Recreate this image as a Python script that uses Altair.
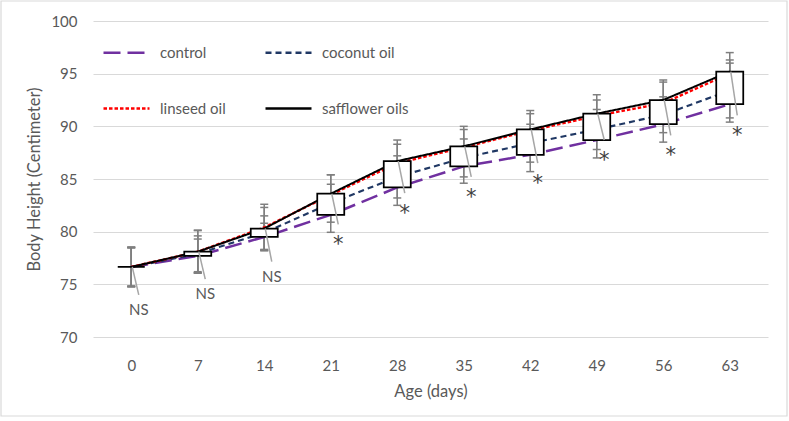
import altair as alt
import pandas as pd

# Age of the animals (days) and mean body height (cm) per diet group
days = [0, 7, 14, 21, 28, 35, 42, 49, 56, 63]
series = ["control", "coconut oil", "linseed oil", "safflower oils"]
# legend entries are laid out column by column
legend_order = ["control", "linseed oil", "coconut oil", "safflower oils"]

control = [76.65, 77.7, 79.5, 81.6, 84.2, 86.2, 87.3, 88.7, 90.2, 92.1]
coconut_oil = [76.65, 77.9, 79.9, 82.7, 85.2, 87.0, 88.4, 89.7, 91.1, 93.4]
linseed_oil = [76.65, 78.1, 80.4, 83.5, 86.5, 88.0, 89.6, 91.0, 92.2, 95.0]
safflower_oils = [76.65, 78.1, 80.3, 83.6, 86.7, 88.1, 89.7, 91.2, 92.5, 95.2]

# Standard deviations (error bars)
sd_control = [1.85, 1.6, 1.3, 1.66, 1.7, 1.6, 1.6, 1.7, 1.7, 1.7]
sd_coconut_oil = [1.8, 1.7, 1.6, 1.8, 2.0, 1.8, 1.8, 1.9, 1.7, 2.6]
sd_linseed_oil = [1.9, 2.05, 2.2, 1.9, 1.8, 1.7, 1.6, 1.5, 2.0, 1.3]
sd_safflower_oils = [1.85, 2.0, 2.0, 1.8, 2.0, 1.9, 1.8, 1.8, 1.9, 1.8]

# Significance callouts and the height where each callout sits
significance = ["NS", "NS", "NS", "*", "*", "*", "*", "*", "*", "*"]
callout_y = [74.0, 75.5, 77.15, 80.7, 83.65, 85.2, 86.5, 88.7, 89.15, 91.05]

y_ticks = [70, 75, 80, 85, 90, 95, 100]

color_map = {"control": "#7030A0", "coconut oil": "#203864",
             "linseed oil": "#FF0000", "safflower oils": "#000000"}
dash_map = {"control": [17, 7], "coconut oil": [6, 4],
            "linseed oil": [3.5, 2], "safflower oils": [1, 0]}
width_map = {"control": 2.5, "coconut oil": 2, "linseed oil": 2,
             "safflower oils": 2.25}

FONT = "Lato"
TEXT = "#595959"
GRID = "#d9d9d9"

means = [control, coconut_oil, linseed_oil, safflower_oils]
sds = [sd_control, sd_coconut_oil, sd_linseed_oil, sd_safflower_oils]

rows = []
for name, m, s in zip(series, means, sds):
    for d, v, e in zip(days, m, s):
        rows.append({"day": d, "group": name, "height": v,
                     "lo": v - e, "hi": v + e})
long_df = pd.DataFrame(rows)

wide_df = pd.DataFrame({
    "day": days,
    "control": control,
    "safflower": safflower_oils,
    "sig": significance,
    "callout": callout_y,
})

x_scale = alt.Scale(domain=[-3.5, 66.5], nice=False, zero=False)
y_scale = alt.Scale(domain=[70, 100], nice=False, zero=False)

x_axis = alt.Axis(values=days, title="Age (days)", grid=False, domain=False,
                  ticks=False, labelPadding=21, labelFontSize=15,
                  titleFontSize=16.5, titlePadding=10, titleFontWeight="normal")
y_axis = alt.Axis(values=y_ticks, title="Body Height (Centimeter)", grid=True,
                  domain=False, ticks=False, labelPadding=16, labelFontSize=15,
                  titleFontSize=16.5, titlePadding=8, titleFontWeight="normal")

X = alt.X("day:Q", scale=x_scale, axis=x_axis)

frame = alt.Chart(pd.DataFrame({"k": [0]})).mark_rect(
    fill=None, stroke=GRID, strokeWidth=1.2
).encode(
    x=alt.value(-92), x2=alt.value(694), y=alt.value(-20), y2=alt.value(395)
)

whisker = alt.Chart(long_df).mark_rule(color="#7f7f7f", strokeWidth=1.5).encode(
    x=X,
    y=alt.Y("lo:Q", scale=y_scale, axis=y_axis),
    y2="hi:Q",
)
cap_hi = alt.Chart(long_df).mark_rule(
    color="#7f7f7f", strokeWidth=1.5, xOffset=-4, x2Offset=4
).encode(x=X, x2="day:Q", y=alt.Y("hi:Q", scale=y_scale, axis=y_axis))
cap_lo = alt.Chart(long_df).mark_rule(
    color="#7f7f7f", strokeWidth=1.5, xOffset=-4, x2Offset=4
).encode(x=X, x2="day:Q", y=alt.Y("lo:Q", scale=y_scale, axis=y_axis))

legend = alt.Legend(
    title=None, orient="none", legendX=9, legendY=7, columns=2,
    symbolType="stroke", symbolSize=2116, symbolStrokeWidth=2.5,
    labelFontSize=15, labelColor=TEXT, labelFont=FONT, labelOffset=9,
    rowPadding=23, columnPadding=34, padding=0,
)

lines = alt.Chart(long_df).mark_line().encode(
    x=X,
    y=alt.Y("height:Q", scale=y_scale, axis=y_axis),
    color=alt.Color("group:N",
                    scale=alt.Scale(domain=legend_order,
                                    range=[color_map[s] for s in legend_order]),
                    legend=legend),
    strokeDash=alt.StrokeDash("group:N",
                              scale=alt.Scale(domain=legend_order,
                                              range=[dash_map[s] for s in legend_order]),
                              legend=legend),
    strokeWidth=alt.StrokeWidth("group:N",
                                scale=alt.Scale(domain=legend_order,
                                                range=[width_map[s] for s in legend_order]),
                                legend=None),
    order="day:Q",
)

boxes = alt.Chart(wide_df).mark_bar(
    size=27, fill="white", stroke="black", strokeWidth=1.75
).encode(
    x=X,
    y=alt.Y("control:Q", scale=y_scale, axis=y_axis),
    y2="safflower:Q",
)

leaders = alt.Chart(wide_df).mark_rule(
    color="#a6a6a6", strokeWidth=1.5, xOffset=1, x2Offset=7.5
).encode(
    x=X, x2="day:Q",
    y=alt.Y("safflower:Q", scale=y_scale, axis=y_axis),
    y2="callout:Q",
)

ns_text = alt.Chart(wide_df).transform_filter(
    alt.datum.sig == "NS"
).mark_text(
    font=FONT, fontSize=15, color=TEXT, dx=7.5, dy=15, baseline="middle"
).encode(
    x=X, y=alt.Y("callout:Q", scale=y_scale, axis=y_axis), text="sig:N"
)

star_text = alt.Chart(wide_df).transform_filter(
    alt.datum.sig == "*"
).mark_text(
    font="DejaVu Sans", fontSize=21, color="#404040", dx=7.5, dy=21,
    baseline="middle"
).encode(
    x=X, y=alt.Y("callout:Q", scale=y_scale, axis=y_axis), text="sig:N"
)

chart = alt.layer(
    frame, whisker, cap_hi, cap_lo, lines, boxes, leaders, ns_text, star_text
).resolve_scale(
    color="independent", strokeDash="independent"
).properties(
    width=675, height=316,
    autosize=alt.AutoSizeParams(type="none"),
    padding={"left": 93, "top": 21, "right": 21, "bottom": 84},
    background="white",
).configure_view(
    stroke=None
).configure_axis(
    labelFont=FONT, titleFont=FONT, labelColor=TEXT, titleColor=TEXT,
    gridColor=GRID, gridWidth=1.2,
)

chart.save("out.html", embed_options={"renderer": "svg", "actions": False})
